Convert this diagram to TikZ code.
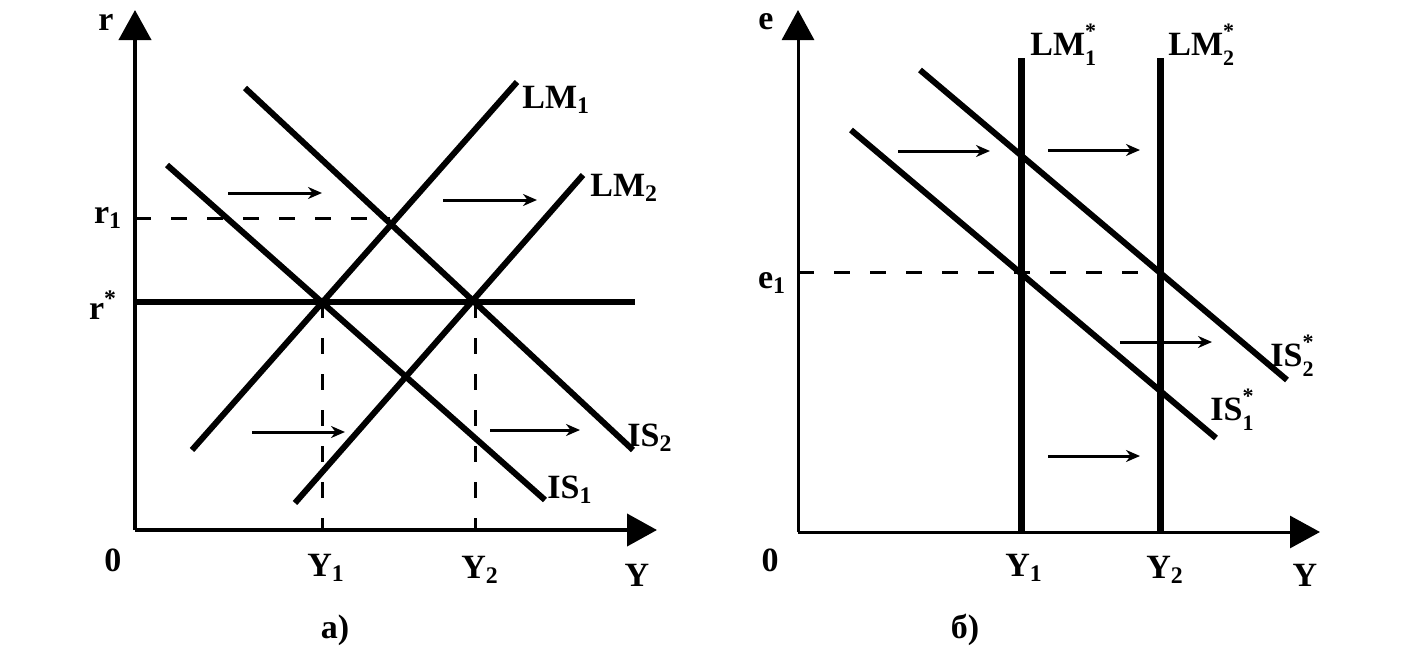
\documentclass[tikz,border=0pt]{standalone}
\usepackage{fontspec}
\setmainfont{Liberation Serif}
\usetikzlibrary{arrows.meta}
\newcommand{\sbsp}[2]{\makebox[0pt][l]{\raisebox{0.5em}{\fontsize{11}{11}\selectfont #2}}\raisebox{-0.3em}{\fontsize{11}{11}\selectfont #1}}
\begin{document}
\begin{tikzpicture}[x=0.5pt,y=-0.5pt,
 axisA/.style={line width=2pt,-{Triangle[length=15pt,width=16pt]}},
 axisB/.style={line width=1.5pt,-{Triangle[length=15pt,width=16pt]}},
 curve/.style={line width=3pt},
 vcurve/.style={line width=3.5pt},
 guide/.style={line width=1.5pt,dash pattern=on 8pt off 10pt},
 shiftarrow/.style={line width=1.5pt,-{Stealth[length=7pt,width=6pt]}},
 lbl/.style={font=\bfseries\fontsize{17}{19}\selectfont, inner sep=0pt}
]
\useasboundingbox (0,0) rectangle (1410,648);

% ---------- panel a ----------
\coordinate (Ao) at (135,530);
\coordinate (Atop) at (135,10);
\coordinate (Aright) at (657,530);
\draw[axisA] (Ao) -- (Atop);
\draw[axisA] (Ao) -- (Aright);

\coordinate (rsL) at (135,302);
\coordinate (rsR) at (635,302);
\draw[curve] (rsL) -- (rsR);

\coordinate (r1L) at (135,218);
\coordinate (r1R) at (390,218);
\draw[guide] (r1L) -- (r1R);

\coordinate (y1T) at (322,302);
\coordinate (y1B) at (322,530);
\coordinate (y2T) at (475,302);
\coordinate (y2B) at (475,530);
\draw[guide] (y1T) -- (y1B);
\draw[guide] (y2T) -- (y2B);

\coordinate (lm1a) at (192,450);
\coordinate (lm1b) at (517,82);
\coordinate (lm2a) at (295,503);
\coordinate (lm2b) at (583,175);
\coordinate (is1a) at (167,165);
\coordinate (is1b) at (545,500);
\coordinate (is2a) at (245,88);
\coordinate (is2b) at (633,450);
\draw[curve] (lm1a) -- (lm1b);
\draw[curve] (lm2a) -- (lm2b);
\draw[curve] (is1a) -- (is1b);
\draw[curve] (is2a) -- (is2b);

\coordinate (a1s) at (228,193); \coordinate (a1e) at (322,193);
\coordinate (a2s) at (443,200); \coordinate (a2e) at (537,200);
\coordinate (a3s) at (252,432); \coordinate (a3e) at (345,432);
\coordinate (a4s) at (490,430); \coordinate (a4e) at (580,430);
\draw[shiftarrow] (a1s) -- (a1e);
\draw[shiftarrow] (a2s) -- (a2e);
\draw[shiftarrow] (a3s) -- (a3e);
\draw[shiftarrow] (a4s) -- (a4e);

\node[lbl] (Lr) at (106,22) {r};
\node[lbl] (Lr1) at (108,218) {r\textsubscript{1}};
\node[lbl] (Lrs) at (103,305) {r\textsuperscript{*}};
\node[lbl] (L0a) at (113,560) {0};
\node[lbl] (LY1a) at (326,568) {Y\textsubscript{1}};
\node[lbl] (LY2a) at (480,570) {Y\textsubscript{2}};
\node[lbl] (LYa) at (637,575) {Y};
\node[lbl] (Lcapa) at (335,630) {а)};
\node[lbl,anchor=west] (LLM1) at (522,100) {LM\textsubscript{1}};
\node[lbl,anchor=west] (LLM2) at (590,188) {LM\textsubscript{2}};
\node[lbl,anchor=west] (LIS1) at (547,490) {IS\textsubscript{1}};
\node[lbl,anchor=west] (LIS2) at (627,438) {IS\textsubscript{2}};

% ---------- panel b ----------
\coordinate (Bo) at (798,532);
\coordinate (Btop) at (798,10);
\coordinate (Bright) at (1320,532);
\draw[axisB] (Bo) -- (Btop);
\draw[axisB] (Bo) -- (Bright);

\coordinate (e1L) at (798,272);
\coordinate (e1R) at (1160,272);
\draw[guide] (e1L) -- (e1R);

\coordinate (v1T) at (1021,58);
\coordinate (v1B) at (1021,532);
\coordinate (v2T) at (1160,58);
\coordinate (v2B) at (1160,532);
\draw[vcurve] (v1T) -- (v1B);
\draw[vcurve] (v2T) -- (v2B);

\coordinate (js1a) at (851,130);
\coordinate (js1b) at (1216,438);
\coordinate (js2a) at (920,70);
\coordinate (js2b) at (1287,380);
\draw[curve] (js1a) -- (js1b);
\draw[curve] (js2a) -- (js2b);

\coordinate (b1s) at (898,151); \coordinate (b1e) at (990,151);
\coordinate (b2s) at (1048,150); \coordinate (b2e) at (1140,150);
\coordinate (b3s) at (1120,342); \coordinate (b3e) at (1212,342);
\coordinate (b4s) at (1048,456); \coordinate (b4e) at (1140,456);
\draw[shiftarrow] (b1s) -- (b1e);
\draw[shiftarrow] (b2s) -- (b2e);
\draw[shiftarrow] (b3s) -- (b3e);
\draw[shiftarrow] (b4s) -- (b4e);

\node[lbl] (Le) at (766,22) {e};
\node[lbl] (Le1) at (772,283) {e\textsubscript{1}};
\node[lbl] (L0b) at (770,560) {0};
\node[lbl] (LY1b) at (1024,568) {Y\textsubscript{1}};
\node[lbl] (LY2b) at (1165,570) {Y\textsubscript{2}};
\node[lbl] (LYb) at (1305,575) {Y};
\node[lbl] (Lcapb) at (965,630) {б)};
\node[lbl,anchor=west] (LLM1s) at (1030,45) {LM\sbsp{1}{*}};
\node[lbl,anchor=west] (LLM2s) at (1168,45) {LM\sbsp{2}{*}};
\node[lbl,anchor=west] (LIS1s) at (1210,410) {IS\sbsp{1}{*}};
\node[lbl,anchor=west] (LIS2s) at (1270,356) {IS\sbsp{2}{*}};
\end{tikzpicture}
\end{document}
